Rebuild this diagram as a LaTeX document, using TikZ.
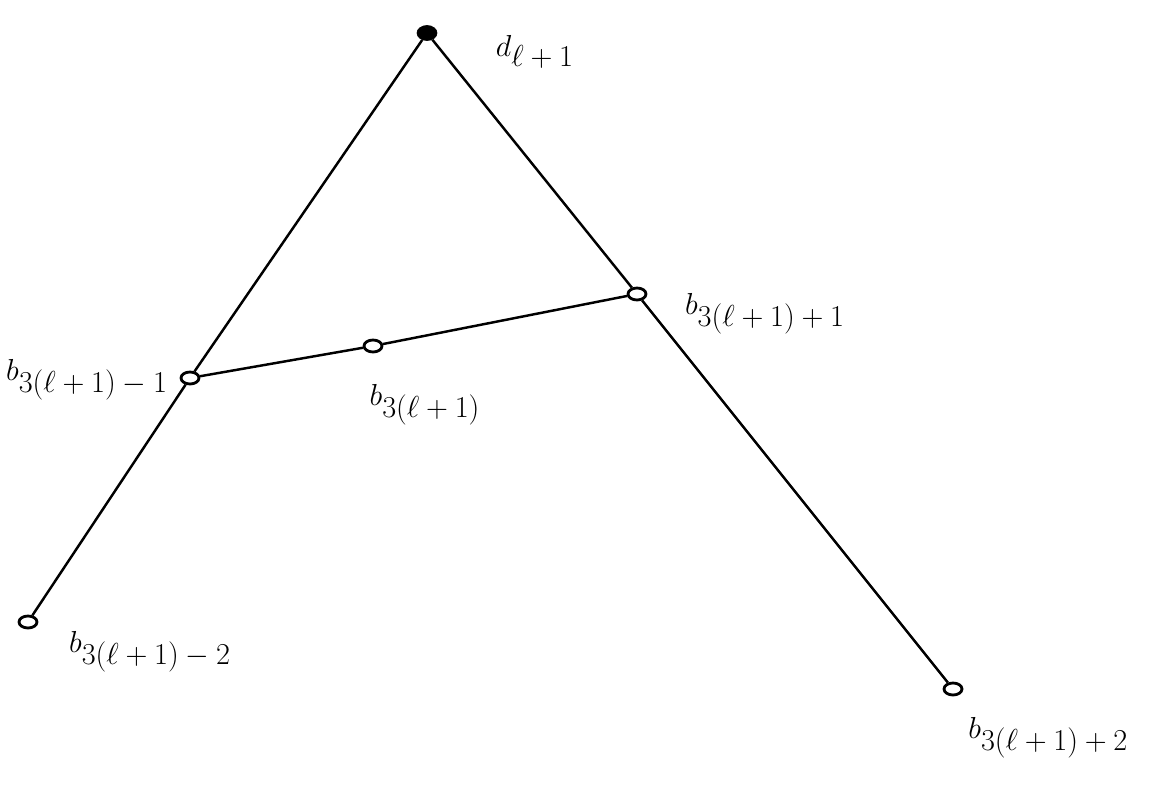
\documentclass[tikz,border=0pt]{standalone}
\usetikzlibrary{shapes.geometric}
\begin{document}
\begin{tikzpicture}[x=0.02cm,y=-0.02cm,
  open/.style={draw,line width=1.6pt,ellipse,minimum width=0.36cm,minimum height=0.24cm,inner sep=0pt,fill=white},
  full/.style={draw,fill=black,ellipse,minimum width=0.4cm,minimum height=0.3cm,inner sep=0pt},
  edge/.style={line width=1.4pt},
  lab/.style={font=\fontsize{19}{23}\selectfont,inner sep=0pt}]
\useasboundingbox (0,0) rectangle (1173,787);
\clip (0,0) rectangle (1173,787);
\fill[white] (0,0) rectangle (1173,787);
\node[full] (d) at (427,33) {};
\node[open] (bm1) at (190,378) {};
\node[open] (b0) at (373,346) {};
\node[open] (bp1) at (637,294) {};
\node[open] (bm2) at (28,622) {};
\node[open] (bp2) at (953,689) {};
\draw[edge] (d) -- (bm1);
\draw[edge] (bm1) -- (bm2);
\draw[edge] (d) -- (bp1);
\draw[edge] (bp1) -- (bp2);
\draw[edge] (bm1) -- (b0);
\draw[edge] (b0) -- (bp1);
\node[lab] (ld) at (535,52) {$d_{\textstyle\ell+1}$};
\node[lab] (lbm1) at (87,380) {$b_{\textstyle 3(\ell+1)-1}$};
\node[lab] (lb0) at (425,405) {$b_{\textstyle 3(\ell+1)}$};
\node[lab] (lbp1) at (765,314) {$b_{\textstyle 3(\ell+1)+1}$};
\node[lab] (lbm2) at (150,652) {$b_{\textstyle 3(\ell+1)-2}$};
\node[lab,anchor=west] (lbp2) at (968,738) {$b_{\textstyle 3(\ell+1)+2}$};
\end{tikzpicture}
\end{document}
